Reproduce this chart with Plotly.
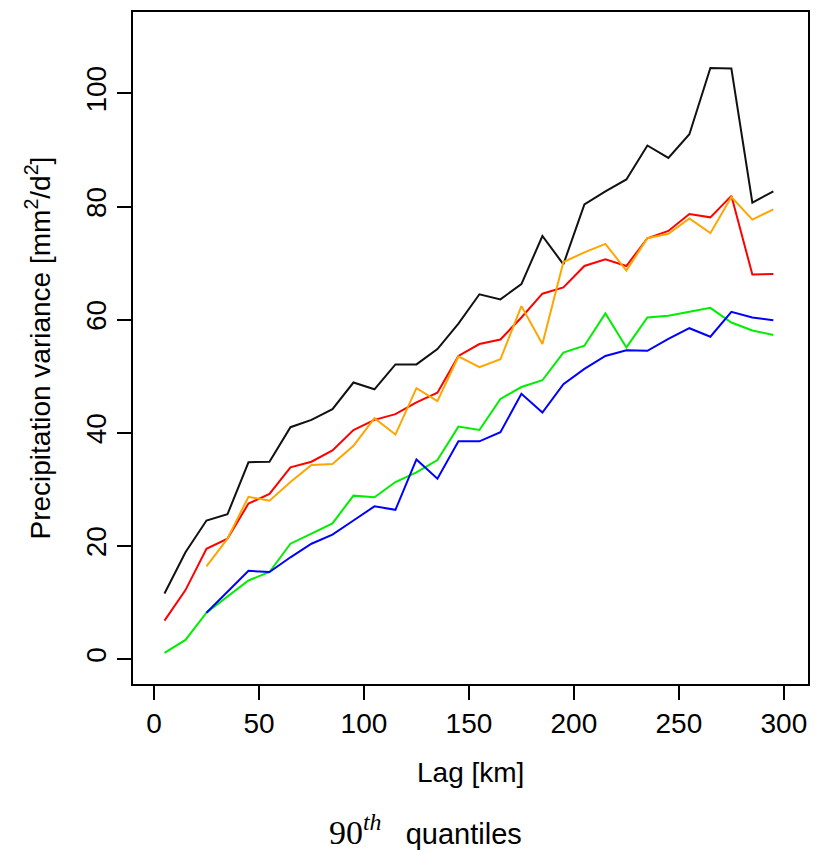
import plotly.graph_objects as go

lag = [5, 15, 25, 35, 45, 55, 65, 75, 85, 95, 105, 115, 125, 135, 145,
       155, 165, 175, 185, 195, 205, 215, 225, 235, 245, 255, 265, 275, 285, 295]

black = [11.6, 18.9, 24.5, 25.6, 34.8, 34.9, 41.0, 42.3, 44.2, 48.9, 47.7, 52.1, 52.1, 54.8, 59.3,
         64.5, 63.6, 66.3, 74.8, 69.8, 80.4, 82.7, 84.8, 90.8, 88.6, 92.8, 104.5, 104.4, 80.7, 82.7]
red = [6.8, 12.2, 19.5, 21.3, 27.5, 29.2, 33.9, 34.9, 36.9, 40.5, 42.3, 43.3, 45.4, 47.1, 53.6,
       55.7, 56.5, 60.4, 64.6, 65.7, 69.5, 70.7, 69.5, 74.4, 75.7, 78.7, 78.1, 81.9, 68.0, 68.1]
orange = [None, None, 16.4, 21.3, 28.7, 28.0, 31.3, 34.3, 34.5, 37.7, 42.6, 39.7, 47.9, 45.6, 53.5,
          51.6, 53.0, 62.4, 55.7, 70.2, 71.9, 73.4, 68.7, 74.4, 75.2, 77.9, 75.3, 81.7, 77.7, 79.5]
green = [1.1, 3.4, 8.2, 11.0, 13.9, 15.4, 20.4, 22.2, 24.0, 28.9, 28.6, 31.3, 33.0, 35.2, 41.1,
         40.5, 46.0, 48.1, 49.3, 54.2, 55.4, 61.1, 55.1, 60.4, 60.7, 61.4, 62.1, 59.5, 58.1, 57.3]
blue = [None, None, 8.2, 11.9, 15.6, 15.4, 18.0, 20.4, 22.0, 24.5, 27.0, 26.4, 35.3, 31.9, 38.5,
        38.5, 40.1, 46.9, 43.6, 48.6, 51.3, 53.6, 54.6, 54.5, 56.6, 58.5, 57.0, 61.4, 60.4, 59.9]

x_ticks = [0, 50, 100, 150, 200, 250, 300]
y_ticks = [0, 20, 40, 60, 80, 100]

series = [
    ("black", black, "#111111"),
    ("red", red, "#FF0000"),
    ("orange", orange, "#FFA500"),
    ("green", green, "#00EE00"),
    ("blue", blue, "#0000FF"),
]

FONT = "Liberation Sans Narrow, Arial Narrow, Liberation Sans, Arial, sans-serif"

fig = go.Figure()
for name, vals, col in series:
    fig.add_trace(go.Scatter(x=lag, y=vals, mode="lines", name=name,
                             line=dict(color=col, width=2), connectgaps=False))

axis_common = dict(
    showgrid=False, zeroline=False, showline=True, mirror=True,
    linecolor="black", linewidth=1.5, ticks="outside", ticklen=14,
    tickwidth=1.5, tickcolor="black",
    tickfont=dict(family=FONT, size=28, color="black"),
)

fig.update_layout(
    width=815, height=844,
    margin=dict(l=125, r=15, t=2, b=168),
    paper_bgcolor="white", plot_bgcolor="white",
    showlegend=False,
    xaxis=dict(range=[-10, 311.5], tickvals=x_ticks, **axis_common),
    yaxis=dict(range=[-4.4, 114.4], tickvals=y_ticks, tickangle=-90, **axis_common),
    annotations=[
        dict(text="Precipitation variance [mm<sup>2</sup>/d<sup>2</sup>]",
             xref="paper", yref="paper", x=-0.14, y=0.5, textangle=-90,
             showarrow=False, xanchor="center", yanchor="middle",
             font=dict(family=FONT, size=28, color="black")),
        dict(text="Lag [km]", xref="paper", yref="paper", x=0.5, y=-0.131,
             showarrow=False, xanchor="center", yanchor="middle",
             font=dict(family=FONT, size=28, color="black")),
        dict(text="<span style='font-family:Liberation Serif, DejaVu Serif, serif; font-size:34px'>90<sup><i>th</i></sup></span>&nbsp;&nbsp; quantiles",
             xref="paper", yref="paper", x=0.433, y=-0.218,
             showarrow=False, xanchor="center", yanchor="middle",
             font=dict(family=FONT, size=29, color="black")),
    ],
)

fig.write_html("out.html")
